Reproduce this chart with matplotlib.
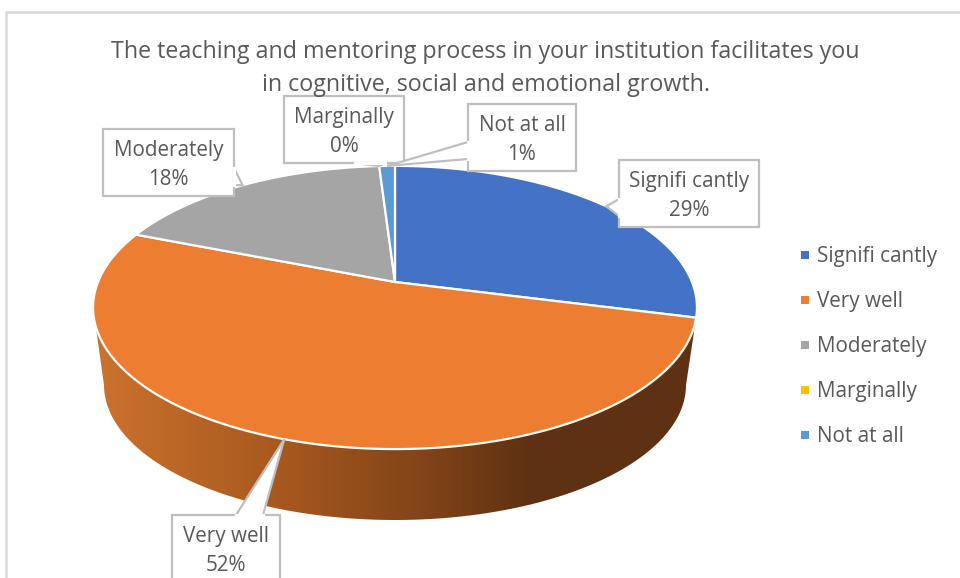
#pie chart drawn in image pixel coordinates, matplotlib has no perspective 3d pie
import numpy as np
import matplotlib
matplotlib.use("Agg")
import matplotlib.pyplot as plt
from matplotlib.colors import LinearSegmentedColormap
from matplotlib.patches import Polygon, Rectangle

title_lines = ["The teaching and mentoring process in your institution facilitates you",
               "in cognitive, social and emotional growth."]
categories = ["Signifi cantly", "Very well", "Moderately", "Marginally", "Not at all"]
percents = [29, 52, 18, 0, 1]
slice_colors = ["#4472C4", "#ED7D31", "#A5A5A5", "#FFC000", "#5B9BD5"]

TEXT = "#595959"
BORDER = "#BFBFBF"
FONT = "Open Sans"

# pie geometry, apex sits above the ellipse centre because of the perspective
CX, CY = 395, 282
A, H, K = 297, 137, 0.18
# bottom rim of the side wall
BOT_Y, BOT_A, BOT_B = 385, 291, 135


def rim(frac):
    # frac is share of the circle, clockwise from 12 o'clock
    t = np.asarray(frac) * 2 * np.pi
    x, y = np.sin(t), np.cos(t)
    d = 1 + K * y
    return CX + A * x / d, CY - H * y / d


fig = plt.figure(figsize=(9.6, 5.78), dpi=100)
ax = fig.add_axes([0, 0, 1, 1])
ax.set_xlim(0, 960)
ax.set_ylim(578, 0)
ax.axis("off")

# chart frame, only top and left are visible in the crop
ax.plot([6, 6, 960], [578, 12, 12], color="#D9D9D9", lw=1.8, zorder=1)

edges = np.cumsum([0] + percents) / sum(percents)

# side wall of the big slice
f = np.linspace(edges[1], edges[2], 300)
wx, wy = rim(f)
left = np.argmin(wx)
t = np.linspace(np.pi, 0, 200)
bx = CX + BOT_A * np.cos(t)
by = BOT_Y + BOT_B * np.sin(t)
wall = np.column_stack([np.r_[wx[:left + 1], bx], np.r_[wy[:left + 1], by]])
wall_patch = Polygon(wall, closed=True, fc="none", ec="none", zorder=2)
ax.add_patch(wall_patch)
shade = LinearSegmentedColormap.from_list(
    "wall", [(0, "#CC722E"), (0.30, "#A9591F"), (0.58, "#7C4117"), (0.72, "#5F3113"), (1, "#5F3113")])
img = ax.imshow(np.linspace(0, 1, 400)[None, :], extent=(93, 697, 578, 0), cmap=shade,
                aspect="auto", zorder=2)
img.set_clip_path(wall_patch)
ax.set_xlim(0, 960)
ax.set_ylim(578, 0)

# top face
for i, color in enumerate(slice_colors):
    if percents[i] == 0:
        continue
    x, y = rim(np.linspace(edges[i], edges[i + 1], 200))
    pts = np.column_stack([np.r_[CX, x], np.r_[CY, y]])
    ax.add_patch(Polygon(pts, closed=True, fc=color, ec="white", lw=1.6, zorder=3))

# callouts: box x0, y0, x1, y1 and the side the pointer leaves from
boxes = [(619, 160, 759, 227), (172, 515, 280, 600), (103, 129, 234, 196),
         (284, 96, 404, 163), (468, 104, 576, 171)]
roots = [((619, 199), (619, 216)), ((236, 515), (263, 515)), ((234, 168), (234, 185)),
         ((355, 163), (385, 163)), ((468, 142), (468, 159))]
draw_order = [0, 1, 2, 4, 3]
for i in draw_order:
    x0, y0, x1, y1 = boxes[i]
    tx, ty = rim((edges[i] + edges[i + 1]) / 2)
    (ax_, ay_), (bx_, by_) = roots[i]
    ax.add_patch(Rectangle((x0, y0), x1 - x0, y1 - y0, fc="white", ec=BORDER, lw=1.6, zorder=4))
    ax.add_patch(Polygon([(ax_, ay_), (float(tx), float(ty)), (bx_, by_)], closed=False,
                         fc="white", ec=BORDER, lw=1.6, zorder=5))
    # hide the box edge under the pointer root
    ax.plot([ax_, bx_], [ay_, by_], color="white", lw=2.2, zorder=5.5)
    ax.text((x0 + x1) / 2, y0 + 27, categories[i], ha="center", va="baseline", color=TEXT,
            fontsize=14.9, family=FONT, zorder=6)
    ax.text((x0 + x1) / 2, y0 + 56, f"{percents[i]}%", ha="center", va="baseline", color=TEXT,
            fontsize=14.9, family=FONT, zorder=6)

# title
ax.text(485, 58, title_lines[0], ha="center", va="baseline", color=TEXT, fontsize=16.75, family=FONT, zorder=6)
ax.text(486, 91, title_lines[1], ha="center", va="baseline", color=TEXT, fontsize=16.75, family=FONT, zorder=6)

# legend
for i, name in enumerate(categories):
    y = 254.5 + 45 * i
    ax.add_patch(Rectangle((801, y - 3.5), 7.5, 7.5, fc=slice_colors[i], ec="none", zorder=4))
    ax.text(817, y + 7.5, name, ha="left", va="baseline", color=TEXT, fontsize=14.9, family=FONT, zorder=6)

fig.savefig("out.png", dpi=100)
